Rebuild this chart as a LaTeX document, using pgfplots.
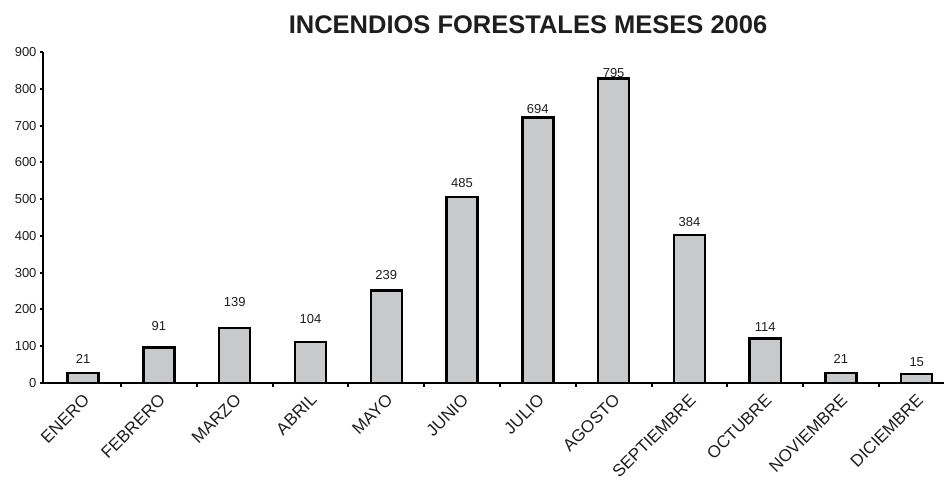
\documentclass[border=0pt]{standalone}
\usepackage{pgfplots}
\pgfplotsset{compat=1.18}
\usepackage{pgfplotstable}
\usepackage{fontspec}
\setmainfont{Liberation Sans}
\definecolor{barfill}{RGB}{200,201,203}
\definecolor{txt}{RGB}{30,30,30}
\pgfplotstableread{
x h v off
0 28 21 13.4
1 97 91 21.6
2 150 139 26
3 112 104 22.4
4 251 239 15.7
5 506 485 14
6 722 694 8.6
7 828 795 5
8 402 384 13.3
9 121 114 11.6
10 28 21 13.4
11 24 15 11.6
}\datatable
\begin{document}
\begin{tikzpicture}
\useasboundingbox (0,0) rectangle (944pt,481pt);
\begin{axis}[
  at={(43pt,98pt)}, anchor=south west,
  scale only axis, width=901pt, height=331pt,
  xmin=-0.53, xmax=11.36, ymin=0, ymax=900,
  axis lines*=left,
  axis line style={line width=2.6pt, black},
  ytick={0,100,...,900},
  xtick={0,...,11},
  xticklabels={ENERO,FEBRERO,MARZO,ABRIL,MAYO,JUNIO,JULIO,AGOSTO,SEPTIEMBRE,OCTUBRE,NOVIEMBRE,DICIEMBRE},
  minor xtick={0.5,1.5,...,10.5},
  every major x tick/.append style={draw=none},
  tick align=outside,
  major tick length=3pt, minor tick length=4pt,
  tick style={line width=2pt, black},
  yticklabel style={font=\fontsize{13}{13}\selectfont, text=txt},
  /pgf/number format/assume math mode=true,
  xticklabel style={xshift=-1pt, yshift=-2pt, rotate=45, anchor=north east, font=\fontsize{17}{17}\selectfont, text=txt},
  clip=false,
]
\addplot[ybar, bar width=0.41, fill=barfill, draw=black, line width=2.4pt,
  nodes near coords, point meta=explicit symbolic,
  visualization depends on={\thisrow{off} \as \off},
  nodes near coords style={anchor=center, yshift=\off pt, font=\fontsize{13}{13}\selectfont, text=txt}]
  table[x=x, y=h, meta=v] {\datatable};
\end{axis}
\node[font=\bfseries\fontsize{25.5}{25.5}\selectfont, text=txt] at (528pt,456pt) {INCENDIOS FORESTALES MESES 2006};
\end{tikzpicture}
\end{document}
